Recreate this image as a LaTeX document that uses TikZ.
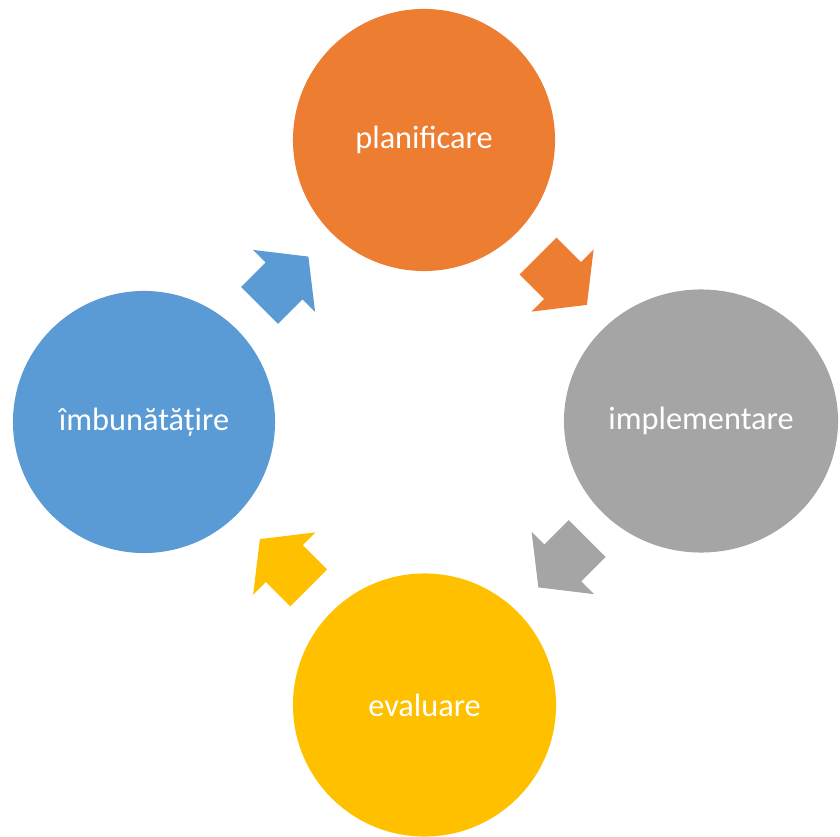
\documentclass[tikz,border=0pt]{standalone}
\usepackage{fontspec}
\setmainfont{Carlito}
\usepackage{tikz}
\usetikzlibrary{shapes.geometric,calc}
\definecolor{planorange}{HTML}{ED7D31}
\definecolor{implgrey}{HTML}{A5A5A5}
\definecolor{evalyellow}{HTML}{FFC000}
\definecolor{imprblue}{HTML}{5B9BD5}
\tikzstyle{stage} = [circle, minimum size=6.55cm, inner sep=0pt, text=white, font=\fontsize{23}{27}\selectfont]

\begin{document}
\begin{tikzpicture}[x=0.025cm,y=0.025cm]
	\useasboundingbox (0,0) rectangle (840,836);
	\node[stage, fill=planorange] (plan) at (424,696) {planificare};
	\node[stage, ellipse, minimum width=6.85cm, minimum height=6.575cm, fill=implgrey] (impl) at (701,415) {implementare};
	\node[stage, minimum size=6.575cm, fill=evalyellow] (eval) at (424.5,131) {evaluare};
	\node[stage, fill=imprblue] (impr) at (144,414) {îmbunătățire};
	% sageti intre etape
	\foreach \a/\b/\c/\r in {plan/impl/planorange/-45, impl/eval/implgrey/-135, eval/impr/evalyellow/135, impr/plan/imprblue/45}
		\fill[\c, shift={($(\a)!0.5!(\b)$)}, rotate=\r]
			(-34.5,-26) -- (0,-26) -- (0,-44) -- (34.5,0) -- (0,44) -- (0,26) -- (-34.5,26) -- cycle;
\end{tikzpicture}
\end{document}
